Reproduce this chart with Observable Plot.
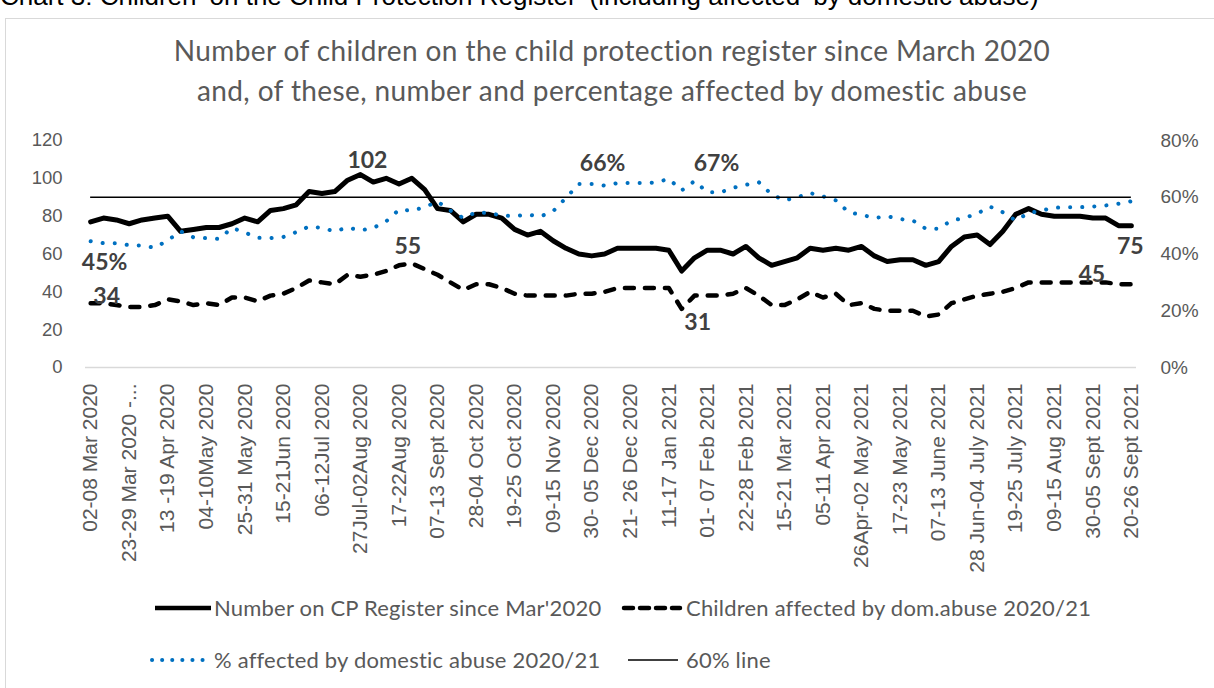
<!DOCTYPE html>
<html>
<head>
<meta charset="utf-8">
<script src="https://cdn.jsdelivr.net/npm/d3@7"></script>
<script src="https://cdn.jsdelivr.net/npm/@observablehq/plot@0.6"></script>
<style>
  html, body { margin: 0; padding: 0; background: #fff; }
  body { width: 1214px; height: 688px; overflow: hidden; position: relative; }
  #caption { position: absolute; left: 0; top: -17px; font: 26px "Liberation Sans", Arial, sans-serif; line-height: 26px; color: #000; white-space: nowrap; }
  #frame { position: absolute; left: 5px; top: 18px; width: 1300px; height: 800px; border: 1px solid #d9d9d9; }
  #title { position: absolute; left: 0; top: 30px; width: 1224px; text-align: center; font: 28px Lato, "Open Sans", sans-serif; letter-spacing: 0.4px; line-height: 40px; color: #595959; }
  #chart { position: absolute; left: 0; top: 0; }
  .leg { position: absolute; font: 22px Lato, "Open Sans", sans-serif; letter-spacing: 0.2px; color: #595959; white-space: nowrap; line-height: 24px; }
  .sw { position: absolute; }
</style>
</head>
<body>
<div id="caption">Chart 3: Children ‘on the Child Protection Register’ (including affected ‘by domestic abuse)</div>
<div id="frame"></div>
<div id="title">Number of children on the child protection register since March 2020<br>and, of these, number and percentage affected by domestic abuse</div>
<div id="chart"></div>
<div id="legend"></div>
<script>
// ---- Data (weekly, 02-08 Mar 2020 ... 20-26 Sept 2021) ----
const cpRegister = [77,79,78,76,78,79,80,72,73,74,74,76,79,77,83,84,86,93,92,93,99,102,98,100,97,100,94,84,83,77,81,81,79,73,70,72,67,63,60,59,60,63,63,63,63,62,51,58,62,62,60,64,58,54,56,58,63,62,63,62,64,59,56,57,57,54,56,64,69,70,65,72,81,84,81,80,80,80,79,79,75,75];
const domAbuse = [34,34,33,32,32,33,36,35,33,34,33,37,37,35,38,39,42,46,45,44,49,48,49,51,54,55,52,49,45,41,44,44,42,39,38,38,38,38,39,39,40,42,42,42,42,42,31,38,38,38,39,42,38,33,33,36,40,37,39,33,34,31,30,30,30,27,28,34,36,38,39,40,42,45,45,45,45,45,45,45,44,44];
const pctAffected = [44.5,43.8,43.8,43.1,43.0,42.2,44.8,48.0,45.9,45.6,45.3,49.2,47.6,45.7,45.6,46.0,47.7,49.7,49.2,48.0,49.3,48.3,49.2,51.5,55.6,55.3,56.5,58.5,55.3,52.7,54.7,54.4,53.6,53.3,53.9,53.2,55.1,59.8,64.7,64.7,64.1,65.0,65.0,65.0,65.2,66.5,62.4,65.7,61.8,61.7,63.3,64.4,65.3,61.0,58.9,60.0,61.5,60.3,58.9,54.7,53.8,52.7,53.3,52.3,51.8,48.9,48.9,51.8,52.7,54.2,56.7,54.7,51.8,54.4,55.3,56.3,56.5,56.5,56.7,57.1,57.7,58.6];
const referenceLinePct = 60;
const tickLabels = ["02-08 Mar 2020","23-29 Mar 2020 -...","13 -19 Apr 2020","04-10May 2020","25-31 May 2020","15-21Jun 2020","06-12Jul 2020","27Jul-02Aug 2020","17-22Aug 2020","07-13 Sept 2020","28-04 Oct 2020","19-25 Oct 2020","09-15 Nov 2020","30- 05 Dec 2020","21- 26 Dec 2020","11-17 Jan 2021","01- 07 Feb 2021","22-28 Feb 2021","15-21 Mar 2021","05-11 Apr 2021","26Apr-02 May 2021","17-23 May 2021","07-13 June 2021","28 Jun-04 July 2021","19-25 July 2021","09-15 Aug 2021","30-05 Sept 2021","20-26 Sept 2021"];
const leftTicks = [0,20,40,60,80,100,120];
const rightTicksPct = [0,20,40,60,80];
const legendLabels = ["Number on CP Register since Mar'2020","Children affected by dom.abuse 2020/21","% affected by domestic abuse 2020/21","60% line"];
// data labels: [week index, text]
const cpLabels = [[21,"102"],[81,"75"]];
const daLabels = [[0,"34"],[25,"55"],[46,"31"],[78,"45"]];
const pctLabels = [[0,"45%"],[40,"66%"],[47,"67%"]];

// ---- Build ----
const W = 1214, H = 688;
const PCT_TO_LEFT = 120 / 80; // 80% on right axis == 120 on left axis
const rows = cpRegister.map((v, i) => ({i, cp: v, da: domAbuse[i], pct: pctAffected[i]}));
const tickWeeks = tickLabels.map((_, k) => k * 3);

const labelFont = {fontSize: 23, fontWeight: "bold", fill: "#404040", fontFamily: "Lato, 'Open Sans', sans-serif"};
function lab(arr, key) {
  return arr.map(([i, t]) => ({i, t, v: key === "pct" ? rows[i].pct * PCT_TO_LEFT : rows[i][key]}));
}

const plot = Plot.plot({
  width: W, height: H,
  marginTop: 140, marginBottom: H - 367, marginLeft: 85, marginRight: W - 1136,
  x: {domain: [-0.4, 81.4], axis: null},
  y: {domain: [0, 120], axis: null},
  style: {background: "transparent", overflow: "visible", fontFamily: "'Liberation Sans', Arial, sans-serif"},
  marks: [
    Plot.ruleY([0], {stroke: "#d9d9d9", strokeWidth: 1.5}),
    Plot.axisY({ticks: leftTicks, tickSize: 0, tickPadding: 23, fontSize: 18.5, fill: "#595959", label: null}),
    Plot.axisY({anchor: "right", ticks: rightTicksPct.map(p => p * PCT_TO_LEFT), tickFormat: d => Math.round(d / PCT_TO_LEFT) + "%", tickSize: 0, tickPadding: 24, fontSize: 19, fill: "#595959", label: null}),
    Plot.axisX({ticks: tickWeeks, tickFormat: d => tickLabels[d / 3], tickRotate: -90, tickSize: 0, tickPadding: 16, fontSize: 21, fill: "#595959", label: null}),
    Plot.line(rows, {x: "i", y: "cp", stroke: "#000", strokeWidth: 5, strokeLinejoin: "round", strokeLinecap: "round"}),
    Plot.line(rows, {x: "i", y: "da", stroke: "#000", strokeWidth: 4.5, strokeDasharray: "9,11", strokeLinecap: "round", strokeLinejoin: "round"}),
    Plot.line(rows, {x: "i", y: d => d.pct * PCT_TO_LEFT, stroke: "#0070C0", strokeWidth: 4, strokeDasharray: "0.1,12", strokeLinecap: "round"}),
    Plot.ruleY([referenceLinePct], {y: d => d * PCT_TO_LEFT, x1: 0, x2: 81, stroke: "#000", strokeWidth: 1.5}),
    // data labels
    Plot.text(lab([cpLabels[0]], "cp"), {x: "i", y: "v", text: "t", dx: 7, dy: -14, ...labelFont}),
    Plot.text(lab([cpLabels[1]], "cp"), {x: "i", y: "v", text: "t", dx: -1, dy: 21, ...labelFont}),
    Plot.text(lab([daLabels[0]], "da"), {x: "i", y: "v", text: "t", dx: 16, dy: -7, ...labelFont}),
    Plot.text(lab([daLabels[1]], "da"), {x: "i", y: "v", text: "t", dx: -4, dy: -17, ...labelFont}),
    Plot.text(lab([daLabels[2]], "da"), {x: "i", y: "v", text: "t", dx: 16, dy: 14, ...labelFont}),
    Plot.text(lab([daLabels[3]], "da"), {x: "i", y: "v", text: "t", dx: -1, dy: -8, ...labelFont}),
    Plot.text(lab([pctLabels[0]], "pct"), {x: "i", y: "v", text: "t", dx: 14, dy: 21, ...labelFont}),
    Plot.text(lab([pctLabels[1]], "pct"), {x: "i", y: "v", text: "t", dx: -2, dy: -22, ...labelFont}),
    Plot.text(lab([pctLabels[2]], "pct"), {x: "i", y: "v", text: "t", dx: 22, dy: -17, ...labelFont})
  ]
});
document.getElementById("chart").appendChild(plot);

// ---- Legend ----
const legend = document.getElementById("legend");
const items = [
  {x: 155, y: 608, w: 56, tx: 214, stroke: "#000", sw: 4.5, dash: null, cap: "butt", label: legendLabels[0]},
  {x: 624, y: 608, w: 56, tx: 686, stroke: "#000", sw: 4.5, dash: "9,7", cap: "round", label: legendLabels[1]},
  {x: 152, y: 660, w: 58, tx: 214, stroke: "#0070C0", sw: 4, dash: "0.1,10", cap: "round", label: legendLabels[2]},
  {x: 628, y: 660, w: 50, tx: 686, stroke: "#000", sw: 1.5, dash: null, cap: "butt", label: legendLabels[3]}
];
for (const it of items) {
  const svg = d3.create("svg").attr("class", "sw").attr("width", it.w + 10).attr("height", 12)
    .style("left", (it.x - 5) + "px").style("top", (it.y - 6) + "px");
  svg.append("line").attr("x1", 5).attr("x2", it.w + 5).attr("y1", 6).attr("y2", 6)
    .attr("stroke", it.stroke).attr("stroke-width", it.sw).attr("stroke-linecap", it.cap)
    .attr("stroke-dasharray", it.dash);
  legend.appendChild(svg.node());
  const t = document.createElement("div");
  t.className = "leg";
  t.textContent = it.label;
  t.style.left = it.tx + "px";
  t.style.top = (it.y - 12) + "px";
  legend.appendChild(t);
}
</script>
</body>
</html>
